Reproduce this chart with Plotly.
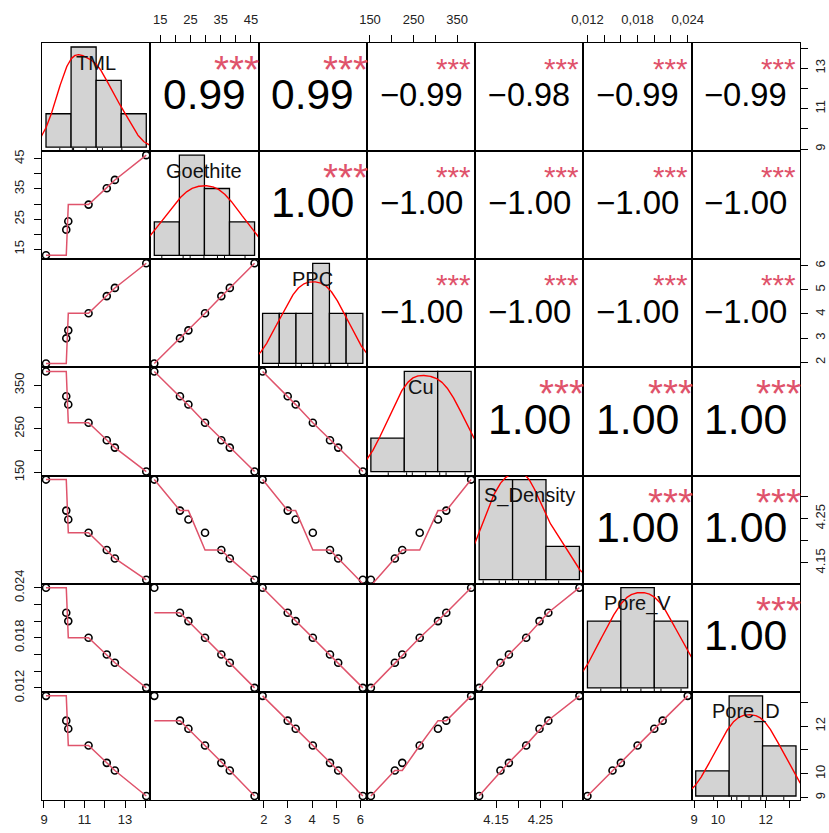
import numpy as np
import plotly.graph_objects as go

# ---------------- data ----------------
var_names = ["TML", "Goethite", "PPC", "Cu", "S_Density", "Pore_V", "Pore_D"]

TML = [9.1, 10.1, 10.2, 11.2, 12.1, 12.5, 14.05]
Goethite = [13.0, 21.5, 24.3, 29.8, 35.2, 38.0, 46.2]
PPC = [1.95, 2.99, 3.32, 4.03, 4.74, 5.08, 6.10]
Cu = [382, 325, 306, 264, 224, 207, 152]
S_Density = [4.338, 4.268, 4.248, 4.218, 4.179, 4.160, 4.112]
Pore_V = [0.024, 0.021, 0.020, 0.018, 0.016, 0.015, 0.012]
Pore_D = [13.27, 12.23, 11.89, 11.19, 10.46, 10.14, 9.07]

columns = [TML, Goethite, PPC, Cu, S_Density, Pore_V, Pore_D]

# histogram breaks of the diagonal panels
breaks_TML = [8, 10, 12, 14, 16]
breaks_Goethite = [10, 20, 30, 40, 50]
breaks_PPC = [1, 2, 3, 4, 5, 6, 7]
breaks_Cu = [100, 200, 300, 400]
breaks_S_Density = [4.1, 4.2, 4.3, 4.4]
breaks_Pore_V = [0.010, 0.015, 0.020, 0.025]
breaks_Pore_D = [8, 10, 12, 14]
hist_breaks = [breaks_TML, breaks_Goethite, breaks_PPC, breaks_Cu,
               breaks_S_Density, breaks_Pore_V, breaks_Pore_D]

# correlation coefficients shown in the upper panels (row by row)
corr_upper = [
    [0.99, 0.99, -0.99, -0.98, -0.99, -0.99],
    [1.00, -1.00, -1.00, -1.00, -1.00],
    [-1.00, -1.00, -1.00, -1.00],
    [1.00, 1.00, 1.00],
    [1.00, 1.00],
    [1.00],
]
signif_upper = [["***"] * len(r) for r in corr_upper]

# outer axis ticks
ticks_TML = [9, 10, 11, 12, 13, 14]
labels_TML = ["9", "", "11", "", "13", ""]
ticks_Goethite = [15, 20, 25, 30, 35, 40, 45]
labels_Goethite = ["15", "", "25", "", "35", "", "45"]
ticks_PPC = [2, 3, 4, 5, 6]
labels_PPC = ["2", "3", "4", "5", "6"]
ticks_Cu = [150, 200, 250, 300, 350]
labels_Cu = ["150", "", "250", "", "350"]
ticks_S_Density = [4.15, 4.20, 4.25, 4.30]
labels_S_Density = ["4.15", "", "4.25", ""]
ticks_Pore_V = [0.012, 0.014, 0.016, 0.018, 0.020, 0.022, 0.024]
labels_Pore_V_top = ["0,012", "", "", "0,018", "", "", "0,024"]
labels_Pore_V_side = ["0.012", "", "", "0.018", "", "", "0.024"]
ticks_Pore_D = [9, 10, 11, 12, 13]
labels_Pore_D = ["9", "10", "", "12", ""]

tick_vals = [ticks_TML, ticks_Goethite, ticks_PPC, ticks_Cu, ticks_S_Density, ticks_Pore_V, ticks_Pore_D]
tick_text_x = [labels_TML, labels_Goethite, labels_PPC, labels_Cu, labels_S_Density, labels_Pore_V_top, labels_Pore_D]
tick_text_y = [labels_TML, labels_Goethite, labels_PPC, labels_Cu, labels_S_Density, labels_Pore_V_side, labels_Pore_D]

# ---------------- helpers ----------------
FONT = "Liberation Sans, Arial, sans-serif"
SMOOTH_COL = "#DF536B"
N = 7
W, H = 829, 833
ML, MR, MT, MB = 42, 29, 43, 33
CELL_W = (W - ML - MR) / N


def pad(v):
    lo, hi = float(min(v)), float(max(v))
    d = hi - lo
    return [lo - 0.04 * d, hi + 0.04 * d]


def r_lowess(xv, yv, f=2 / 3, iters=3):
    x = np.asarray(xv, float)
    y = np.asarray(yv, float)
    o = np.argsort(x, kind="stable")
    x = x[o]
    y = y[o]
    n = len(x)
    delta = 0.01 * (x[-1] - x[0])
    ns = max(2, min(n, int(f * n + 1e-7)))
    ys = np.zeros(n)
    rw = np.ones(n)
    rng = x[-1] - x[0]

    def lowest(xs, nleft, nright, userw):
        h = max(xs - x[nleft], x[nright] - xs)
        h9 = 0.999 * h
        h1 = 0.001 * h
        w = np.zeros(n)
        a = 0.0
        j = nleft
        while j < n:
            w[j] = 0.0
            r = abs(x[j] - xs)
            if r <= h9:
                if r <= h1:
                    w[j] = 1.0
                else:
                    w[j] = (1 - (r / h) ** 3) ** 3
                if userw:
                    w[j] *= rw[j]
                a += w[j]
            elif x[j] > xs:
                break
            j += 1
        nrt = j - 1
        if a <= 0:
            return None
        sl = slice(nleft, nrt + 1)
        w[sl] /= a
        if h > 0:
            a = np.sum(w[sl] * x[sl])
            b = xs - a
            c = np.sum(w[sl] * (x[sl] - a) ** 2)
            if np.sqrt(c) > 0.001 * rng:
                b /= c
                w[sl] *= (b * (x[sl] - a) + 1)
        return float(np.sum(w[sl] * y[sl]))

    it = 1
    while it <= iters + 1:
        nleft, nright, last, i = 0, ns - 1, -1, 0
        while True:
            if nright < n - 1:
                d1 = x[i] - x[nleft]
                d2 = x[nright + 1] - x[i]
                if d1 > d2:
                    nleft += 1
                    nright += 1
                    continue
            val = lowest(x[i], nleft, nright, it > 1)
            ys[i] = val if val is not None else y[i]
            if last < i - 1:
                denom = x[i] - x[last]
                for j in range(last + 1, i):
                    alpha = (x[j] - x[last]) / denom
                    ys[j] = alpha * ys[i] + (1 - alpha) * ys[last]
            last = i
            cut = x[last] + delta
            i = last + 1
            while i < n:
                if x[i] > cut:
                    break
                if x[i] == x[last]:
                    ys[i] = ys[last]
                    last = i
                i += 1
            i = max(last + 1, i - 1)
            if last >= n - 1:
                break
        res = y - ys
        sc = np.mean(np.abs(res))
        if it > iters:
            break
        rabs = np.abs(res)
        srt = np.sort(rabs)
        m1 = n // 2
        if n % 2 == 0:
            cmad = 3 * (srt[m1] + srt[n - m1 - 1])
        else:
            cmad = 6 * srt[m1]
        if cmad < 1e-7 * sc:
            break
        c9, c1 = 0.999 * cmad, 0.001 * cmad
        for k in range(n):
            r = rabs[k]
            rw[k] = 1.0 if r <= c1 else ((1 - (r / cmad) ** 2) ** 2 if r <= c9 else 0.0)
        it += 1
    return x, ys


def bw_nrd0(v):
    v = np.asarray(v, float)
    hi = np.std(v, ddof=1)
    q75, q25 = np.percentile(v, [75, 25])
    lo = min(hi, (q75 - q25) / 1.34)
    if lo == 0:
        lo = hi or abs(v[0]) or 1.0
    return 0.9 * lo * len(v) ** (-0.2)


def density(v):
    v = np.asarray(v, float)
    bw = bw_nrd0(v)
    g = np.linspace(v.min() - 3 * bw, v.max() + 3 * bw, 512)
    d = np.exp(-0.5 * ((g[:, None] - v[None, :]) / bw) ** 2).sum(axis=1) / (len(v) * bw * np.sqrt(2 * np.pi))
    return g, d


def hist_right_closed(v, br):
    v = np.asarray(v, float)
    br = np.asarray(br, float)
    fuzz = 1e-7 * np.median(np.diff(br))
    b = br.copy()
    b[0] -= fuzz
    b[1:] += fuzz
    counts = np.array([np.sum((v > b[k]) & (v <= b[k + 1])) for k in range(len(br) - 1)])
    widths = np.diff(br)
    dens = counts / (len(v) * widths)
    mids = (br[:-1] + br[1:]) / 2
    return mids, widths, dens


def rescale(vals, src, dst):
    # linear map from one axis range to another (same panel, different user coordinates)
    vals = np.asarray(vals, float)
    return dst[0] + (vals - src[0]) / (src[1] - src[0]) * (dst[1] - dst[0])


EM = {d: 0.556 for d in "0123456789"}
EM.update({".": 0.278, "\u2212": 0.584, "*": 0.389})


def em_width(s):
    return sum(EM.get(c, 0.556) for c in s)


def aid(n):
    return "" if n == 1 else str(n)


# ---------------- figure ----------------
fig = go.Figure()
layout = dict(
    width=W, height=H, template="none", showlegend=False,
    margin=dict(l=ML, r=MR, t=MT, b=MB, pad=0),
    paper_bgcolor="white", plot_bgcolor="white",
    font=dict(family=FONT, size=13, color="#222"),
)
annotations = []
LW = 1.4

for i in range(N):
    for j in range(N):
        n = i * N + j + 1
        xd = [j / N, (j + 1) / N]
        yd = [1 - (i + 1) / N, 1 - i / N]
        xr = pad(columns[j])
        yr = pad(columns[i])
        xtv = list(tick_vals[j])
        ytv = list(tick_vals[i])
        if i == j:
            # histogram user coordinates for the diagonal panel
            br = hist_breaks[i]
            mids, widths, dens = hist_right_closed(columns[i], br)
            hx = pad(br)
            ymax = float(dens.max())
            hy = [-0.04 * ymax, 1.04 * ymax]
            xtv = list(rescale(tick_vals[j], xr, hx))
            ytv = list(rescale(tick_vals[i], yr, hy))
            xr, yr = hx, hy
        xa = dict(domain=xd, anchor="y" + aid(n), range=xr,
                  showgrid=False, zeroline=False, showline=True, mirror=True,
                  linecolor="black", linewidth=LW, ticks="", showticklabels=False,
                  automargin=False, fixedrange=True, layer="above traces")
        ya = dict(domain=yd, anchor="x" + aid(n), range=yr,
                  showgrid=False, zeroline=False, showline=True, mirror=True,
                  linecolor="black", linewidth=LW, ticks="", showticklabels=False,
                  automargin=False, fixedrange=True, layer="above traces")
        tick_common = dict(ticks="outside", ticklen=7, tickwidth=1.3, tickcolor="black",
                           showticklabels=True, tickfont=dict(size=13, color="#222", family=FONT))
        if i == N - 1 and j % 2 == 0:
            xa.update(tick_common, side="bottom", tickvals=xtv, ticktext=tick_text_x[j],
                      ticklabelstandoff=0)
        if i == 0 and j % 2 == 1:
            xa.update(tick_common, side="top", tickvals=xtv, ticktext=tick_text_x[j],
                      ticklabelstandoff=6)
        if j == 0 and i % 2 == 1:
            ya.update(tick_common, side="left", tickvals=ytv, ticktext=tick_text_y[i],
                      tickangle=-90, ticklabelstandoff=5)
        if j == N - 1 and i % 2 == 0:
            ya.update(tick_common, side="right", tickvals=ytv, ticktext=tick_text_y[i],
                      tickangle=-90, ticklabelstandoff=1)
        layout["xaxis" + aid(n)] = xa
        layout["yaxis" + aid(n)] = ya
        xs_id, ys_id = "x" + aid(n), "y" + aid(n)

        if i > j:
            # scatter + lowess smooth
            fig.add_trace(go.Scatter(
                x=columns[j], y=columns[i], mode="markers", xaxis=xs_id, yaxis=ys_id,
                marker=dict(symbol="circle-open", size=7, color="black", line=dict(width=1.6, color="black")),
                cliponaxis=False, hoverinfo="skip"))
            lx, ly = r_lowess(columns[j], columns[i])
            fig.add_trace(go.Scatter(
                x=lx, y=ly, mode="lines", xaxis=xs_id, yaxis=ys_id,
                line=dict(color=SMOOTH_COL, width=1.5), hoverinfo="skip"))
        elif i < j:
            # invisible anchor trace so the panel (and its frame) is drawn
            fig.add_trace(go.Scatter(
                x=[float(np.mean(columns[j]))], y=[float(np.mean(columns[i]))], mode="markers",
                xaxis=xs_id, yaxis=ys_id, marker=dict(opacity=0, size=1), hoverinfo="skip"))
            r = corr_upper[i][j - i - 1]
            txt = ("\u2212" if r < 0 else "") + f"{abs(r):.2f}"
            base = 0.77 * CELL_W / em_width(txt)
            fnum = base * (abs(r) + 0.3) / 1.3
            fstar = base * 0.9
            annotations.append(dict(
                text=txt, x=0.5, y=0.5, xref=xs_id + " domain", yref=ys_id + " domain",
                showarrow=False, xanchor="center", yanchor="middle", yshift=0.07 * fnum,
                font=dict(family=FONT, size=fnum, color="black")))
            annotations.append(dict(
                text=signif_upper[i][j - i - 1], x=0.8, y=0.8,
                xref=xs_id + " domain", yref=ys_id + " domain",
                showarrow=False, xanchor="center", yanchor="middle", yshift=-(0.1 * fstar + 1.0),
                font=dict(family=FONT, size=fstar, color=SMOOTH_COL)))
        else:
            fig.add_trace(go.Bar(
                x=mids, y=dens, width=widths, xaxis=xs_id, yaxis=ys_id,
                marker=dict(color="#D3D3D3", line=dict(color="black", width=1.3)), hoverinfo="skip"))
            gx, gd = density(columns[i])
            fig.add_trace(go.Scatter(
                x=gx, y=gd, mode="lines", xaxis=xs_id, yaxis=ys_id,
                line=dict(color="red", width=1.4), hoverinfo="skip"))
            rx, ry = [], []
            for v in columns[i]:
                rx += [v, v, None]
                ry += [hy[0], hy[0] + 0.03 * (hy[1] - hy[0]), None]
            fig.add_trace(go.Scatter(
                x=rx, y=ry, mode="lines", xaxis=xs_id, yaxis=ys_id,
                line=dict(color="black", width=1), hoverinfo="skip"))
            annotations.append(dict(
                text=var_names[i], x=0.5, y=0.833, xref=xs_id + " domain",
                yref=ys_id + " domain", showarrow=False, xanchor="center", yanchor="middle",
                yshift=-1.5, font=dict(family=FONT, size=20, color="#111")))

layout["annotations"] = annotations
fig.update_layout(**layout)
fig.write_html("out.html")
